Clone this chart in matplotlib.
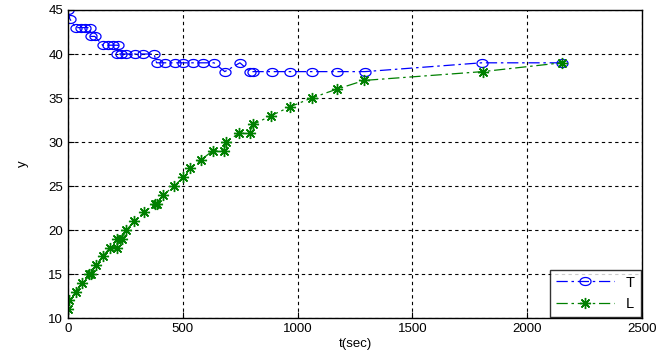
import numpy as np
import matplotlib.pyplot as plt
from matplotlib.path import Path

plt.rcParams['font.family'] = ['Liberation Sans', 'DejaVu Sans']

# T: час та значення
t_T = [0, 8, 33, 55, 73, 96, 99, 117, 151, 173, 197, 219, 215, 233, 255, 292, 328, 375,
       386, 422, 466, 502, 546, 590, 636, 683, 749, 793, 805, 887, 967, 1061, 1170, 1294,
       1801, 2150]
T = [45, 44, 43, 43, 43, 43, 42, 42, 41, 41, 41, 41, 40, 40, 40, 40, 40, 40,
     39, 39, 39, 39, 39, 39, 39, 38, 39, 38, 38, 38, 38, 38, 38, 38,
     39, 39]

# L: час та значення
t_L = [1, 6, 35, 60, 93, 99, 122, 151, 183, 215, 215, 237, 255, 288, 331, 379, 386, 415,
       463, 502, 533, 581, 630, 679, 688, 745, 792, 807, 885, 967, 1061, 1170, 1290,
       1806, 2150]
L = [11, 12, 13, 14, 15, 15, 16, 17, 18, 18, 19, 19, 20, 21, 22, 23, 23, 24,
     25, 26, 27, 28, 29, 29, 30, 31, 31, 32, 33, 34, 35, 36, 37,
     38, 39]

# маркер-еліпс (як у MATLAB на цьому знімку)
ang = np.linspace(0, 2 * np.pi, 40)
ellipse = Path(np.column_stack([np.cos(ang), 0.72 * np.sin(ang)]))

fig = plt.figure(figsize=(6.66, 3.57), dpi=100)
ax = fig.add_axes([0.102, 0.109, 0.862, 0.863])

ls = (0, (9, 3, 2, 3))
ax.plot(t_T, T, color='blue', linestyle=ls, linewidth=0.9, marker=ellipse,
        markersize=8, markerfacecolor='none', markeredgewidth=0.9, label='T')
ax.plot(t_L, L, color=(0, 0.5, 0), linestyle=ls, linewidth=0.9, marker=(8, 2, 0),
        markersize=8, markeredgewidth=1.0, label='L')

ax.set_xlim(0, 2500)
ax.set_ylim(10, 45)
ax.set_xticks(np.arange(0, 2501, 500))
ax.set_yticks(np.arange(10, 46, 5))
ax.grid(True, color='black', linestyle=(0, (3, 3)), linewidth=0.8)
ax.tick_params(direction='in', labelsize=9.5, length=4)
for s in ax.spines.values():
    s.set_linewidth(1.0)
ax.set_xlabel('t(sec)', fontsize=9.5, labelpad=2)
ax.set_ylabel('y', fontsize=9.5, labelpad=14)

leg = ax.legend(loc='lower right', fontsize=10.5, frameon=True, fancybox=False,
                edgecolor='black', borderaxespad=0.1, handlelength=4)
leg.get_frame().set_linewidth(1.0)

plt.savefig('out.png', dpi=100)
